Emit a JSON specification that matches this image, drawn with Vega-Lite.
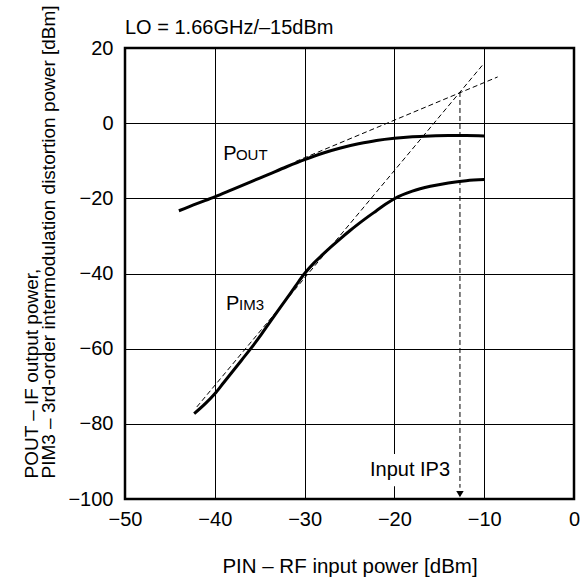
{
  "$schema": "https://vega.github.io/schema/vega-lite/v6.json",
  "width": 449,
  "height": 451,
  "autosize": {"type": "none"},
  "padding": {"left": 125, "top": 48, "right": 14, "bottom": 81},
  "background": "white",
  "title": {"text": "LO = 1.66GHz/–15dBm", "anchor": "start", "frame": "group", "fontSize": 20, "fontWeight": "normal", "font": "Liberation Sans", "color": "black", "baseline": "alphabetic", "offset": -49},
  "config": {
    "font": "Liberation Sans",
    "view": {"stroke": "black", "strokeWidth": 2.5},
    "axis": {"grid": true, "gridColor": "black", "gridOpacity": 1, "gridWidth": 1, "domain": false, "ticks": false, "labelFontSize": 20, "labelColor": "black", "titleFontSize": 20, "titleFontWeight": "normal", "titleColor": "black", "labelFont": "Liberation Sans", "titleFont": "Liberation Sans"}
  },
  "datasets": {
    "curves": [
      {"s": "pout", "x": -44, "y": -23.3}, {"s": "pout", "x": -42, "y": -21.4}, {"s": "pout", "x": -40, "y": -19.6}, {"s": "pout", "x": -38, "y": -17.6}, {"s": "pout", "x": -36, "y": -15.6}, {"s": "pout", "x": -34, "y": -13.6}, {"s": "pout", "x": -32, "y": -11.6}, {"s": "pout", "x": -30, "y": -9.7}, {"s": "pout", "x": -28, "y": -8.0}, {"s": "pout", "x": -26, "y": -6.6}, {"s": "pout", "x": -24, "y": -5.5}, {"s": "pout", "x": -22, "y": -4.6}, {"s": "pout", "x": -20, "y": -4.0}, {"s": "pout", "x": -18, "y": -3.6}, {"s": "pout", "x": -16, "y": -3.4}, {"s": "pout", "x": -14, "y": -3.3}, {"s": "pout", "x": -12, "y": -3.3}, {"s": "pout", "x": -10, "y": -3.4},
      {"s": "pim3", "x": -42.3, "y": -77.3}, {"s": "pim3", "x": -41, "y": -74.5}, {"s": "pim3", "x": -40, "y": -72}, {"s": "pim3", "x": -39, "y": -69}, {"s": "pim3", "x": -38, "y": -66}, {"s": "pim3", "x": -37, "y": -63}, {"s": "pim3", "x": -36, "y": -60}, {"s": "pim3", "x": -35, "y": -56.8}, {"s": "pim3", "x": -34, "y": -53.4}, {"s": "pim3", "x": -33, "y": -50}, {"s": "pim3", "x": -32, "y": -46.7}, {"s": "pim3", "x": -31, "y": -43.3}, {"s": "pim3", "x": -30, "y": -40}, {"s": "pim3", "x": -29, "y": -37.3}, {"s": "pim3", "x": -28, "y": -35}, {"s": "pim3", "x": -27, "y": -32.8}, {"s": "pim3", "x": -26, "y": -30.7}, {"s": "pim3", "x": -25, "y": -28.7}, {"s": "pim3", "x": -24, "y": -26.8}, {"s": "pim3", "x": -23, "y": -25}, {"s": "pim3", "x": -22, "y": -23.3}, {"s": "pim3", "x": -21, "y": -21.6}, {"s": "pim3", "x": -20, "y": -20.1}, {"s": "pim3", "x": -18, "y": -18.1}, {"s": "pim3", "x": -16, "y": -16.8}, {"s": "pim3", "x": -14, "y": -15.9}, {"s": "pim3", "x": -12, "y": -15.3}, {"s": "pim3", "x": -10, "y": -15}
    ],
    "asym": [
      {"s": "a1", "x": -31, "y": -10.2}, {"s": "a1", "x": -8.5, "y": 12.3},
      {"s": "a3", "x": -42, "y": -75.5}, {"s": "a3", "x": -10.1, "y": 15.7}
    ],
    "ip3": [{"x": -12.7, "y": 8.3, "y2": -97}],
    "arrow": [{"x": -12.7, "y": -98.7}],
    "mask": [{"x": -23.6, "x2": -13.6, "y": -88, "y2": -96.6}],
    "bigLabels": [{"x": -39.05, "y": -9.8, "t": "P"}, {"x": -38.75, "y": -49.6, "t": "P"}],
    "smallLabels": [{"x": -37.65, "y": -9.8, "t": "OUT"}, {"x": -37.3, "y": -49.6, "t": "IM3"}],
    "ipLabel": [{"x": -13.8, "y": -93.9, "t": "Input IP3"}]
  },
  "encoding": {
    "x": {"field": "x", "type": "quantitative", "scale": {"domain": [-50, 0], "nice": false, "zero": false},
      "axis": {"values": [-50, -40, -30, -20, -10, 0], "title": "PIN – RF input power [dBm]", "titleFontSize": 20.5, "labelFlush": false, "labelPadding": 10, "titleY": 73, "titleBaseline": "alphabetic"}},
    "y": {"field": "y", "type": "quantitative", "scale": {"domain": [-100, 20], "nice": false, "zero": false},
      "axis": {"values": [-100, -80, -60, -40, -20, 0, 20], "title": ["POUT – IF output power,", "PIM3 – 3rd-order intermodulation distortion power [dBm]"], "titleFontSize": 19, "labelPadding": 12, "titleAngle": 270, "titleX": -88, "titleY": 430, "titleAlign": "left", "titleBaseline": "alphabetic", "titleLineHeight": 17.5}}
  },
  "layer": [
    {"data": {"name": "mask"}, "mark": {"type": "rect", "color": "white"}, "encoding": {"x2": {"field": "x2"}, "y2": {"field": "y2"}}},
    {"data": {"name": "asym"}, "mark": {"type": "line", "color": "black", "strokeWidth": 1, "strokeDash": [5, 3]}, "encoding": {"detail": {"field": "s"}}},
    {"data": {"name": "ip3"}, "mark": {"type": "rule", "color": "black", "strokeWidth": 1, "strokeDash": [5, 3]}, "encoding": {"y2": {"field": "y2"}}},
    {"data": {"name": "curves"}, "mark": {"type": "line", "color": "black", "strokeWidth": 3, "interpolate": "monotone"}, "encoding": {"detail": {"field": "s"}}},
    {"data": {"name": "arrow"}, "mark": {"type": "point", "shape": "triangle-down", "filled": true, "color": "black", "opacity": 1, "size": 55}},
    {"data": {"name": "bigLabels"}, "mark": {"type": "text", "align": "left", "baseline": "alphabetic", "fontSize": 20, "color": "black"}, "encoding": {"text": {"field": "t"}}},
    {"data": {"name": "smallLabels"}, "mark": {"type": "text", "align": "left", "baseline": "alphabetic", "fontSize": 15, "color": "black"}, "encoding": {"text": {"field": "t"}}},
    {"data": {"name": "ipLabel"}, "mark": {"type": "text", "align": "right", "baseline": "alphabetic", "fontSize": 20, "color": "black"}, "encoding": {"text": {"field": "t"}}}
  ]
}
